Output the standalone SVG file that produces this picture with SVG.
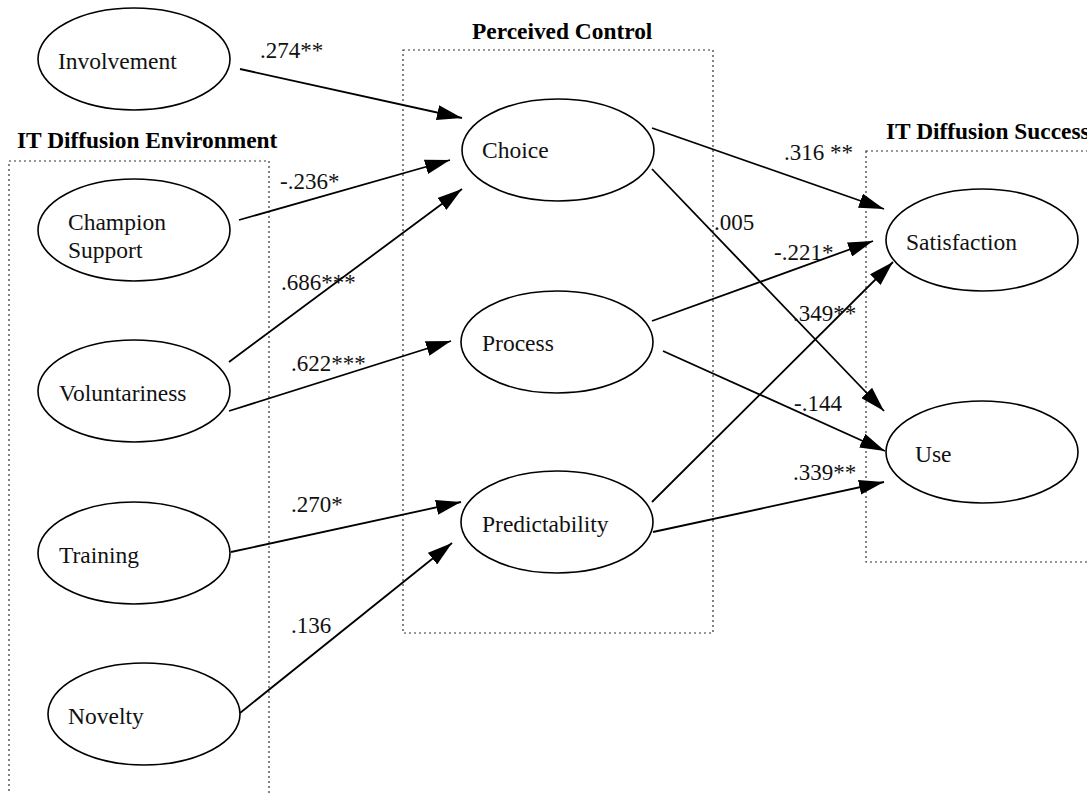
<svg xmlns="http://www.w3.org/2000/svg" width="1087" height="794" viewBox="0 0 1087 794">
  <style>
    .node { fill: #fff; stroke: #000; stroke-width: 1.6; }
    .lbl { font-family: "Liberation Serif", "Times New Roman", serif; font-size: 23.5px; fill: #111; }
    .title { font-family: "Liberation Serif", "Times New Roman", serif; font-size: 23.4px; font-weight: bold; fill: #000; }
    .coef { font-family: "Liberation Serif", "Times New Roman", serif; font-size: 23px; fill: #111; }
    .box { fill: none; stroke: #333; stroke-width: 1.2; stroke-dasharray: 2 3; }
    .edge { fill: none; stroke: #000; stroke-width: 1.8; marker-end: url(#arr); }
  </style>
  <defs>
    <marker id="arr" viewBox="0 0 25 15" refX="25" refY="7.5" markerWidth="25" markerHeight="15" markerUnits="userSpaceOnUse" orient="auto">
      <path d="M0,0 L25,7.5 L0,15 z" fill="#000"/>
    </marker>
  </defs>
  <rect width="1087" height="794" fill="#fff"/>

  <!-- construct groupings -->
  <g id="groups">
    <rect class="box" x="9" y="161" width="260" height="640"/>
    <text class="title" x="17" y="148">IT Diffusion Environment</text>
    <rect class="box" x="403" y="50" width="310" height="583"/>
    <text class="title" x="472" y="39">Perceived Control</text>
    <rect class="box" x="866" y="151" width="240" height="411"/>
    <text class="title" x="886" y="139">IT Diffusion Success</text>
  </g>

  <!-- paths with coefficients -->
  <g id="connectors">
    <line class="edge" x1="240" y1="69" x2="462" y2="118"/>
    <line class="edge" x1="239" y1="220" x2="450" y2="160"/>
    <line class="edge" x1="229" y1="362" x2="462" y2="189"/>
    <line class="edge" x1="229" y1="411" x2="451" y2="341"/>
    <line class="edge" x1="231" y1="552" x2="461" y2="502"/>
    <line class="edge" x1="240" y1="713" x2="452" y2="543"/>
    <line class="edge" x1="652" y1="128" x2="884" y2="209"/>
    <line class="edge" x1="652" y1="169" x2="884" y2="411"/>
    <line class="edge" x1="652" y1="321" x2="873" y2="241"/>
    <line class="edge" x1="663" y1="351" x2="885" y2="451"/>
    <line class="edge" x1="652" y1="502" x2="893" y2="262"/>
    <line class="edge" x1="653" y1="532" x2="884" y2="482"/>
    <text class="coef" x="260" y="58">.274**</text>
    <text class="coef" x="280" y="189">-.236*</text>
    <text class="coef" x="281" y="290">.686***</text>
    <text class="coef" x="291" y="371">.622***</text>
    <text class="coef" x="291" y="512">.270*</text>
    <text class="coef" x="291" y="633">.136</text>
    <text class="coef" x="784" y="160">.316 **</text>
    <text class="coef" x="714" y="230">.005</text>
    <text class="coef" x="774" y="260">-.221*</text>
    <text class="coef" x="793" y="321">.349**</text>
    <text class="coef" x="794" y="411">-.144</text>
    <text class="coef" x="793" y="480">.339**</text>
  </g>

  <g id="involvement">
    <ellipse class="node" cx="134" cy="59" rx="96" ry="51"/>
    <text class="lbl" x="58" y="69">Involvement</text>
  </g>
  <g id="champion-support">
    <ellipse class="node" cx="134" cy="230" rx="96" ry="51"/>
    <text class="lbl" x="68" y="230">Champion</text>
    <text class="lbl" x="68" y="258">Support</text>
  </g>
  <g id="voluntariness">
    <ellipse class="node" cx="134" cy="391" rx="96" ry="51"/>
    <text class="lbl" x="59" y="401">Voluntariness</text>
  </g>
  <g id="training">
    <ellipse class="node" cx="134" cy="553" rx="96" ry="51"/>
    <text class="lbl" x="59" y="563">Training</text>
  </g>
  <g id="novelty">
    <ellipse class="node" cx="144" cy="714" rx="96" ry="51"/>
    <text class="lbl" x="68" y="724">Novelty</text>
  </g>
  <g id="choice">
    <ellipse class="node" cx="558" cy="150" rx="96" ry="51"/>
    <text class="lbl" x="482" y="158">Choice</text>
  </g>
  <g id="process">
    <ellipse class="node" cx="557" cy="342" rx="96" ry="51"/>
    <text class="lbl" x="482" y="351">Process</text>
  </g>
  <g id="predictability">
    <ellipse class="node" cx="557" cy="522" rx="96" ry="51"/>
    <text class="lbl" x="482" y="532">Predictability</text>
  </g>
  <g id="satisfaction">
    <ellipse class="node" cx="982" cy="240" rx="96" ry="51"/>
    <text class="lbl" x="906" y="250">Satisfaction</text>
  </g>
  <g id="use">
    <ellipse class="node" cx="982" cy="452" rx="96" ry="51"/>
    <text class="lbl" x="915" y="462">Use</text>
  </g>
</svg>
